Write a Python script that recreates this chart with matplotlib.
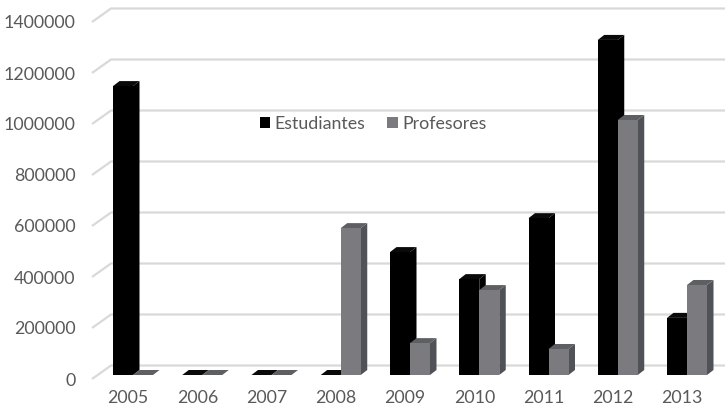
import matplotlib
matplotlib.use("Agg")
import matplotlib.pyplot as plt
from matplotlib.patches import Polygon, Patch
from matplotlib.transforms import ScaledTranslation
import numpy as np

# ---- data ----
years = ["2005", "2006", "2007", "2008", "2009", "2010", "2011", "2012", "2013"]
estudiantes = [1133000, 0, 0, 0, 482000, 376000, 615000, 1314000, 224000]
profesores = [0, 0, 0, 576000, 125000, 333000, 102000, 1000000, 353000]
yticks = [0, 200000, 400000, 600000, 800000, 1000000, 1200000, 1400000]
series_names = ["Estudiantes", "Profesores"]

# ---- style ----
plt.rcParams['font.family'] = ['Lato', 'DejaVu Sans']
TXT = "#595959"
GRID = "#d9d9d9"
FS = 12.8
front_cols = ["#000000", "#7b7b7f"]
side_cols = ["#000000", "#4f5256"]
top_cols = ["#0a0a0a", "#5e5f63"]

W, H = 725, 413
fig = plt.figure(figsize=(W / 100, H / 100), dpi=100)

# axes in pixel layout (front plane of the bars)
ax_left_px, ax_right_px = 92, 725
ax_bottom_px_from_top, ax_top_px_from_top = 375, 0
ax = fig.add_axes([ax_left_px / W, (H - ax_bottom_px_from_top) / H,
                   (ax_right_px - ax_left_px) / W,
                   (ax_bottom_px_from_top - ax_top_px_from_top) / H])

px_per_cat = 69.25
first_center_px = 133
xmin = (ax_left_px - first_center_px) / px_per_cat
xmax = (ax_right_px - first_center_px) / px_per_cat
px_per_val = 51 / 200000
ymax = (ax_bottom_px_from_top - ax_top_px_from_top) / px_per_val
ax.set_xlim(xmin, xmax)
ax.set_ylim(0, ymax)

def dxp(p):
    return p / px_per_cat

def dyp(p):
    return p / px_per_val

# ---- back wall gridlines with left-wall slant ----
for v in yticks:
    xs = [xmin, xmin + dxp(19), xmax]
    ys = [v - dyp(4), v + dyp(9.5), v + dyp(9.5)]
    ax.plot(xs, ys, color=GRID, lw=1.6, clip_on=False, zorder=1, solid_capstyle='butt')

# ---- 3D bars ----
bw = dxp(20)
ddx, ddy = dxp(6.5), dyp(5)
x = np.arange(len(years))
for i in range(len(years)):
    for s, vals in enumerate([estudiantes, profesores]):
        v = vals[i]
        x0 = x[i] - bw + s * bw
        x1 = x0 + bw
        z = 3 + i * 2 + s * 0.5
        # side face
        ax.add_patch(Polygon([[x1, 0], [x1 + ddx, ddy], [x1 + ddx, v + ddy], [x1, v]],
                             closed=True, facecolor=side_cols[s], edgecolor='none', zorder=z))
        # top face
        ax.add_patch(Polygon([[x0, v], [x0 + ddx, v + ddy], [x1 + ddx, v + ddy], [x1, v]],
                             closed=True, facecolor=top_cols[s], edgecolor='none', zorder=z))
        # front face
        ax.bar(x0, v, width=bw, align='edge', color=front_cols[s], edgecolor='none',
               zorder=z + 0.1)

# ---- axes styling ----
for sp in ax.spines.values():
    sp.set_visible(False)
ax.set_yticks(yticks)
ax.set_yticklabels([str(t) for t in yticks])
ax.set_xticks(x)
ax.set_xticklabels(years)
ax.tick_params(axis='both', length=0, labelsize=FS, labelcolor=TXT)
ax.tick_params(axis='y', pad=12.0)
ax.tick_params(axis='x', pad=11.0)
for lab in ax.get_yticklabels():
    lab.set_transform(lab.get_transform() + ScaledTranslation(0, -4 / 100, fig.dpi_scale_trans))
for lab in ax.get_xticklabels():
    lab.set_transform(lab.get_transform() + ScaledTranslation(-5 / 100, 0, fig.dpi_scale_trans))

# ---- legend ----
handles = [Patch(facecolor=front_cols[0], edgecolor='none'),
           Patch(facecolor="#7b7b7f", edgecolor='none')]
leg = fig.legend(handles, series_names, loc='center', bbox_to_anchor=(373 / W, 1 - 124 / H),
                 ncol=2, frameon=False, fontsize=FS, labelcolor=TXT,
                 handlelength=0.6, handleheight=0.6, handletextpad=0.25, columnspacing=1.2)

fig.savefig("out.png", dpi=100)
